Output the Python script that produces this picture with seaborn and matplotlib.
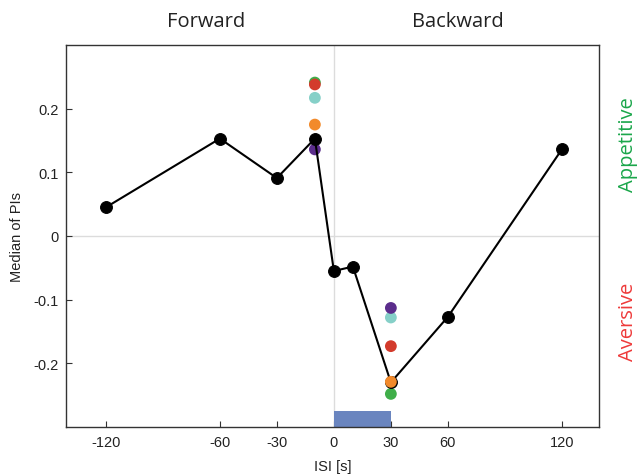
import matplotlib
matplotlib.use("Agg")
import matplotlib.pyplot as plt
import seaborn as sns
import pandas as pd

# Median PI per inter-stimulus interval (black trace)
isi = [-120, -60, -30, -10, 0, 10, 30, 60, 120]
median_pi = [0.045, 0.153, 0.091, 0.153, -0.055, -0.048, -0.230, -0.127, 0.136]

# Individual group medians at ISI -10 s and 30 s
group_names = ["green", "red", "cyan", "purple", "orange"]
group_colors = ["#3fae49", "#d33b2c", "#86d0c8", "#5b2d8c", "#f28a2b"]
group_at_neg10 = [0.241, 0.238, 0.217, 0.136, 0.175]
group_at_30 = [-0.248, -0.173, -0.128, -0.113, -0.229]

# Stimulus bar from 0 to 30 s
bar_start, bar_end = 0, 30
bar_top = -0.275

xticks = [-120, -60, -30, 0, 30, 60, 120]
yticks = [-0.2, -0.1, 0, 0.1, 0.2]

sns.set_theme(style="white")
plt.rcParams["font.family"] = ["Liberation Sans", "DejaVu Sans"]

fig = plt.figure(figsize=(6.37, 4.77), dpi=100)
ax = fig.add_axes([0.1036, 0.1027, 0.8366, 0.8009])

ax.axvline(0, color="#dcdcdc", lw=1.0, zorder=0)
ax.axhline(0, color="#dcdcdc", lw=1.0, zorder=0)

ax.fill_between([bar_start, bar_end], -0.3, bar_top, color="#6a85bf", lw=0, zorder=1)

groups = pd.DataFrame({
    "isi": [-10] * len(group_names) + [30] * len(group_names),
    "pi": group_at_neg10 + group_at_30,
    "group": group_names * 2,
})
palette = dict(zip(group_names, group_colors))

# Groups drawn beneath the black trace
for name in ["green", "red", "cyan", "purple"]:
    sub = groups[groups["group"] == name]
    sns.scatterplot(data=sub, x="isi", y="pi", color=palette[name], s=72,
                    edgecolor="none", ax=ax, zorder=2, legend=False)

trace = pd.DataFrame({"isi": isi, "pi": median_pi})
sns.lineplot(data=trace, x="isi", y="pi", color="black", lw=1.5, marker="o",
             markersize=8.5, markeredgecolor="black", ax=ax, zorder=3)

top = groups[groups["group"] == "orange"]
sns.scatterplot(data=top, x="isi", y="pi", color=palette["orange"], s=72,
                edgecolor="none", ax=ax, zorder=4, legend=False)

ax.set_xlim(-141, 139.5)
ax.set_ylim(-0.3, 0.3)
ax.set_xticks(xticks)
ax.set_xticklabels([str(t) for t in xticks])
ax.set_yticks(yticks)
ax.set_yticklabels(["-0.2", "-0.1", "0", "0.1", "0.2"])
ax.tick_params(direction="in", length=4, width=0.8, color="#333333",
               labelsize=10.5, labelcolor="#222222",
               bottom=True, left=True, top=False, right=False)
ax.tick_params(axis="x", pad=6)
ax.tick_params(axis="y", pad=5)
for sp in ax.spines.values():
    sp.set_color("#333333")
    sp.set_linewidth(1.0)

ax.set_xlabel("ISI [s]", fontsize=10.5, color="#222222", labelpad=7)
ax.set_ylabel("Median of PIs", fontsize=10.5, color="#222222", labelpad=7)

title_font = ["Open Sans", "DejaVu Sans"]
fig.text(206 / 637, 1 - 22 / 477, "Forward", ha="center", va="center",
         fontsize=14.5, family=title_font, color="#222222")
fig.text(458 / 637, 1 - 22 / 477, "Backward", ha="center", va="center",
         fontsize=14.5, family=title_font, color="#222222")
fig.text(628 / 637, 1 - 145 / 477, "Appetitive", ha="center", va="center",
         rotation=90, fontsize=14.5, family=title_font, color="#1aa64a")
fig.text(628 / 637, 1 - 322 / 477, "Aversive", ha="center", va="center",
         rotation=90, fontsize=14.5, family=title_font, color="#ee3a3a")

fig.savefig("out.png", dpi=100)
